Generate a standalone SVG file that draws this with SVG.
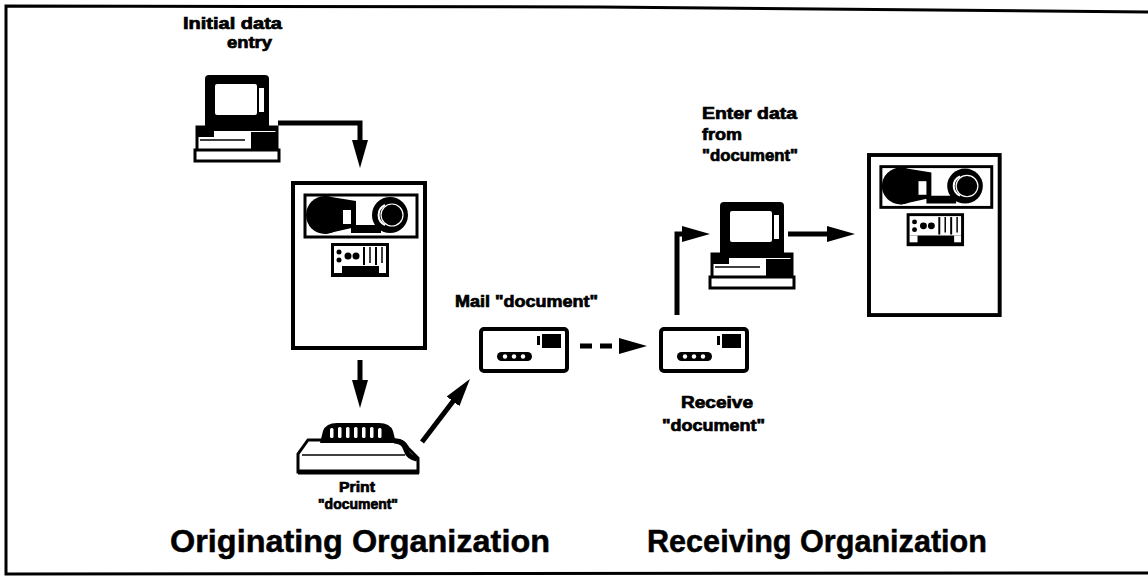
<svg xmlns="http://www.w3.org/2000/svg" xmlns:xlink="http://www.w3.org/1999/xlink" width="1148" height="580" viewBox="0 0 1148 580">
<style>
.ln{stroke:#000;stroke-width:5;fill:none;stroke-linejoin:miter}
.blk{fill:#000}
.wht{fill:#fff}
.box{fill:#fff;stroke:#000;stroke-width:4}
.lbl{font-family:"Liberation Sans",Arial,Helvetica,sans-serif;font-weight:bold;font-size:16px;fill:#000;stroke:#000;stroke-width:0.7}
.sm{font-size:14px}
.big{font-family:"Liberation Sans",Arial,Helvetica,sans-serif;font-weight:bold;font-size:32px;fill:#000;stroke:#000;stroke-width:0.5}
</style>
<defs>
<marker id="ah" markerUnits="userSpaceOnUse" markerWidth="30" markerHeight="18" refX="3" refY="8" orient="auto">
<path d="M0,0 L28,8 L0,16 Z" fill="#000"/>
</marker>
<g id="computer">
<rect x="10" y="0" width="64" height="54" rx="4" class="blk"/>
<rect x="20" y="9" width="42" height="31" rx="2" class="wht"/>
<rect x="64" y="13" width="5" height="24" class="wht"/>
<rect x="2" y="52" width="80" height="24" fill="#fff" stroke="#000" stroke-width="3"/>
<rect x="2" y="52" width="80" height="4" class="blk"/>
<rect x="3" y="53" width="16" height="9" class="blk"/>
<rect x="56" y="57" width="26" height="18" class="blk"/>
<line x1="5" y1="65" x2="50" y2="65" stroke="#000" stroke-width="1.5"/>
<rect x="0" y="75" width="84" height="11" fill="#fff" stroke="#000" stroke-width="3"/>
</g>
<g id="tape">
<rect x="0" y="0" width="132" height="165" class="box"/>
<rect x="12" y="12" width="112" height="42" fill="#fff" stroke="#000" stroke-width="3"/>
<circle cx="32" cy="32" r="19" class="blk"/>
<polygon points="32,13 63,18 63,44 32,51" class="blk"/>
<rect x="50" y="27" width="8" height="14" class="wht"/>
<rect x="58" y="42" width="30" height="8" class="blk"/>
<circle cx="97" cy="32" r="18" class="blk"/>
<path d="M92,22 A11,11 0 0 0 92,42" fill="none" stroke="#fff" stroke-width="2"/>
<circle cx="99" cy="32" r="11" fill="none" stroke="#fff" stroke-width="1.2"/>
<rect x="38" y="60" width="58" height="34" class="blk"/>
<rect x="41" y="63" width="52" height="20" class="wht"/>
<circle cx="46" cy="69" r="2.5" class="blk"/>
<circle cx="46" cy="77" r="2.5" class="blk"/>
<circle cx="55" cy="73" r="3.5" class="blk"/>
<circle cx="63" cy="73" r="3.5" class="blk"/>
<line x1="71" y1="64" x2="71" y2="82" stroke="#000" stroke-width="2"/>
<line x1="77" y1="64" x2="77" y2="80" stroke="#000" stroke-width="1.5"/>
<line x1="83" y1="64" x2="83" y2="82" stroke="#000" stroke-width="2"/>
<line x1="89" y1="64" x2="89" y2="80" stroke="#000" stroke-width="1.5"/>
<rect x="41" y="83" width="8" height="7" class="wht"/>
<rect x="86" y="83" width="7" height="7" class="wht"/>
</g>
<g id="envelope">
<rect x="0" y="0" width="86" height="42" rx="3" class="box"/>
<rect x="61" y="5" width="19" height="14" class="blk"/>
<rect x="56" y="7" width="3" height="9" class="blk"/>
<rect x="16" y="23" width="35" height="9" rx="4.5" class="blk"/>
<circle cx="24" cy="27.5" r="2.2" class="wht"/>
<circle cx="33" cy="27.5" r="2.2" class="wht"/>
<circle cx="42" cy="27.5" r="2.2" class="wht"/>
</g>
</defs>
<rect width="1148" height="580" fill="#fff"/>
<path d="M1150,12 L600,7 L6,6 L6,574 L1150,573" fill="none" stroke="#000" stroke-width="3"/>

<g id="computer1"><use xlink:href="#computer" x="195" y="75"/></g>
<g id="tapeDrive1"><use xlink:href="#tape" x="293" y="183"/></g>
<g id="printer">
<path d="M298,472 L298,454 L308,440 L396,440 Q404,440 408,448 L418,458 L418,472 Z" fill="#fff" stroke="#000" stroke-width="3"/>
<line x1="298" y1="472" x2="419" y2="472" stroke="#000" stroke-width="5"/>
<line x1="302" y1="455" x2="405" y2="455" stroke="#000" stroke-width="1.5"/>
<path d="M320,443 L323,431 Q326,423 337,423 L379,423 Q390,423 393,431 L396,443 Z" class="blk"/>
<rect x="330" y="428" width="3.5" height="10" rx="1.5" class="wht"/>
<rect x="338" y="427" width="3.5" height="11" rx="1.5" class="wht"/>
<rect x="346" y="427" width="3.5" height="11" rx="1.5" class="wht"/>
<rect x="354" y="427" width="3.5" height="11" rx="1.5" class="wht"/>
<rect x="362" y="427" width="3.5" height="11" rx="1.5" class="wht"/>
<rect x="370" y="427" width="3.5" height="11" rx="1.5" class="wht"/>
<rect x="378" y="428" width="3.5" height="10" rx="1.5" class="wht"/>
<path d="M394,441 Q404,441 406,450 Q408,457 417,459" fill="none" stroke="#000" stroke-width="5"/>
</g>
<g id="envelope1"><use xlink:href="#envelope" x="481" y="329"/></g>
<g id="envelope2"><use xlink:href="#envelope" x="661" y="329"/></g>
<g id="computer2"><use xlink:href="#computer" x="710" y="202"/></g>
<g id="tapeDrive2"><use xlink:href="#tape" x="869" y="155" transform="translate(869 155) scale(0.99 0.97) translate(-869 -155)"/></g>

<g id="connectors">
<path class="ln" d="M278,123 H360 V143" marker-end="url(#ah)"/>
<path class="ln" d="M360,360 V383" marker-end="url(#ah)"/>
<path class="ln" d="M422,442 L454.8,398.9" marker-end="url(#ah)"/>
<path class="ln" d="M580,346 H622" stroke-dasharray="12 8" marker-end="url(#ah)"/>
<path class="ln" d="M677,315 V234 H685" marker-end="url(#ah)"/>
<path class="ln" d="M788,234 H830" marker-end="url(#ah)"/>
</g>

<g id="labels">
<text class="lbl" x="183" y="29" textLength="99" lengthAdjust="spacingAndGlyphs">Initial data</text>
<text class="lbl" x="227" y="48" textLength="45" lengthAdjust="spacingAndGlyphs">entry</text>
<text class="lbl" x="455" y="307" textLength="143" lengthAdjust="spacingAndGlyphs">Mail "document"</text>
<text class="lbl" x="681" y="408" textLength="72" lengthAdjust="spacingAndGlyphs">Receive</text>
<text class="lbl" x="662" y="431" textLength="103" lengthAdjust="spacingAndGlyphs">"document"</text>
<text class="lbl" x="702" y="119" textLength="95" lengthAdjust="spacingAndGlyphs">Enter data</text>
<text class="lbl" x="702" y="140" textLength="40" lengthAdjust="spacingAndGlyphs">from</text>
<text class="lbl" x="702" y="161" textLength="96" lengthAdjust="spacingAndGlyphs">"document"</text>
<text class="lbl sm" x="339" y="492" textLength="36" lengthAdjust="spacingAndGlyphs">Print</text>
<text class="lbl sm" x="318" y="509" textLength="80" lengthAdjust="spacingAndGlyphs">"document"</text>
<text class="big" x="170" y="552" textLength="380" lengthAdjust="spacingAndGlyphs">Originating Organization</text>
<text class="big" x="647" y="552" textLength="340" lengthAdjust="spacingAndGlyphs">Receiving Organization</text>
</g>
</svg>
